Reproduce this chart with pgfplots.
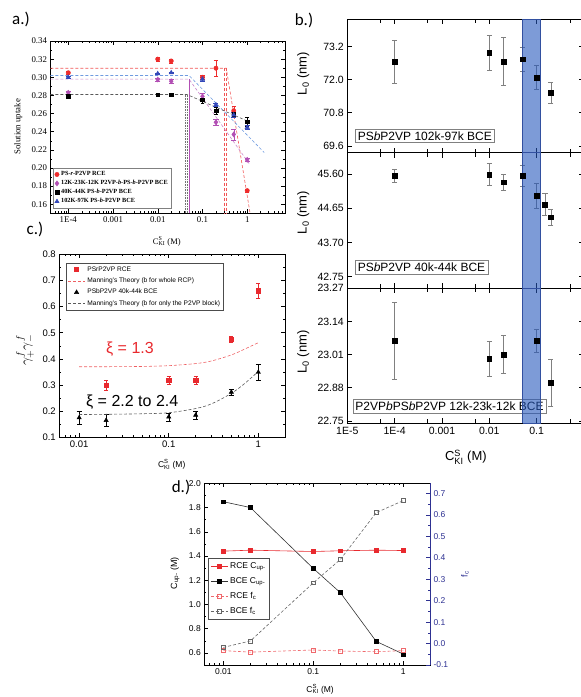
\documentclass[border=0pt]{standalone}
\usepackage{amsmath}
\usepackage{fontspec}
\setmainfont{Liberation Sans}
\newfontfamily\tnr{Liberation Serif}
\newfontfamily\carl{Carlito}
\usepackage{pgfplots}
\pgfplotsset{compat=1.18}

\definecolor{aRed}{HTML}{EE2B2B}
\definecolor{aPurple}{HTML}{B24FB4}
\definecolor{aBlue}{HTML}{3347B8}
\definecolor{aLight}{HTML}{6F9BE0}
\definecolor{cRed}{HTML}{E8292E}
\definecolor{dNavy}{HTML}{2E3192}
\definecolor{bandFill}{RGB}{38,88,188}
\definecolor{bandEdge}{RGB}{50,80,160}

\newcommand{\fs}[1]{\fontsize{#1bp}{#1bp}\selectfont}

\pgfplotsset{
  base/.style={
    scale only axis, anchor=north west,
    /pgf/number format/assume math mode=true,
    tick align=inside, axis line style={line width=0.6pt},
    major tick length=4bp, minor tick length=2bp,
    tick style={black, line width=0.5pt},
  },
  bpts/.style={only marks, mark=square*, mark size=2.3bp, black,
    error bars/.cd, y dir=both, y explicit,
    error bar style={gray, line width=0.5pt},
    error mark options={rotate=90, gray, mark size=2.5bp, line width=0.5pt}},
  band/.style={draw=bandEdge, line width=0.8pt, fill=bandFill, fill opacity=0.6, forget plot},
}

\begin{document}
\begin{tikzpicture}
\useasboundingbox (0,0) rectangle (581bp,-697bp);

% ---------- a.)
\node[font=\carl\fs{17}] at (21bp,-19bp) {a.)};
\begin{axis}[base, at={(50.5bp,-41bp)}, width=234.5bp, height=172.3bp,
  xmode=log, xmin=4e-5, xmax=7, ymin=0.15, ymax=0.34,
  xtick={1e-4,0.001,0.01,0.1,1}, xticklabels={1E-4,0.001,0.01,0.1,1},
  minor xtick={5e-5,6e-5,7e-5,8e-5,9e-5,2e-4,3e-4,4e-4,5e-4,6e-4,7e-4,8e-4,9e-4,
    0.002,0.003,0.004,0.005,0.006,0.007,0.008,0.009,0.02,0.03,0.04,0.05,0.06,0.07,0.08,0.09,
    0.2,0.3,0.4,0.5,0.6,0.7,0.8,0.9,2,3,4,5,6,7},
  ytick={0.16,0.18,0.20,0.22,0.24,0.26,0.28,0.30,0.32,0.34}, minor y tick num=1,
  yticklabel style={/pgf/number format/.cd, fixed, fixed zerofill, precision=2},
  tick label style={font=\tnr\fs{8.8}},
  ylabel={Solution uptake},
  ylabel style={font=\tnr\fs{8.8}, at={(axis description cs:-0.137,0.502)}, anchor=center},
  xlabel={C$^{\text{S}}_{\text{KI}}$ (M)},
  xlabel style={font=\tnr\fs{8.5}, inner sep=0pt, at={(axis description cs:0.496,-0.162)}, anchor=center},
  legend style={at={(axis description cs:0.011,0.03)}, anchor=south west,
    font=\tnr\bfseries\fs{6.3}, draw=gray, row sep=-0.8bp, inner sep=1.5bp,
    cells={anchor=west}},
  legend cell align=left,
]
% fitted lines
\addplot[aRed!80, densely dashed, line width=0.6pt, forget plot] coordinates {(4e-5,0.31) (0.34,0.31) (1.16,0.15)};
\addplot[aRed!80, densely dashed, line width=0.6pt, forget plot] coordinates {(0.31,0.31) (0.31,0.15)};
\addplot[aRed!80, densely dashed, line width=0.6pt, forget plot] coordinates {(0.34,0.31) (0.34,0.15)};
\addplot[aLight, densely dashed, line width=0.6pt, forget plot] coordinates {(4e-5,0.302) (0.05,0.302) (2.4,0.217)};
\addplot[aPurple!70, densely dashed, line width=0.6pt, forget plot] coordinates {(4e-5,0.298) (0.05,0.298) (1.1,0.205)};
\addplot[aPurple, line width=0.6pt, forget plot] coordinates {(0.051,0.298) (0.051,0.15)};
\addplot[black!65, densely dashed, line width=0.6pt, forget plot] coordinates {(4e-5,0.281) (0.045,0.281) (1.15,0.2505)};
\addplot[black!55, densely dotted, line width=0.6pt, forget plot] coordinates {(0.042,0.281) (0.042,0.15)};
\addplot[black!55, densely dotted, line width=0.6pt, forget plot] coordinates {(0.045,0.281) (0.045,0.15)};
% data
\addplot[only marks, mark=*, mark size=2.2bp, aRed,
  error bars/.cd, y dir=both, y explicit] coordinates {
  (1e-4,0.305) +- (0,0.002) (0.01,0.320) +- (0,0.002) (0.02,0.318) +- (0,0.002)
  (0.1,0.300) +- (0,0.002) (0.2,0.310) +- (0,0.009) (0.5,0.263) +- (0,0.005) (1,0.175) +- (0,0.002)};
\addlegendentry{PS-\textit{r}-P2VP RCE}
\addplot[only marks, mark=diamond*, mark size=2.6bp, aPurple,
  error bars/.cd, y dir=both, y explicit] coordinates {
  (1e-4,0.283) +- (0,0.002) (0.01,0.2975) +- (0,0.002) (0.02,0.2956) +- (0,0.002)
  (0.1,0.279) +- (0,0.003) (0.2,0.2504) +- (0,0.003) (0.5,0.237) +- (0,0.006) (1,0.209) +- (0,0.002)};
\addlegendentry{12K-23K-12K P2VP-\textit{b}-PS-\textit{b}-P2VP BCE}
\addplot[only marks, mark=square*, mark size=1.8bp, black,
  error bars/.cd, y dir=both, y explicit] coordinates {
  (1e-4,0.279) +- (0,0.001) (0.01,0.281) +- (0,0.001) (0.02,0.281) +- (0,0.001)
  (0.1,0.2752) +- (0,0.004) (0.2,0.263) +- (0,0.004) (0.5,0.259) +- (0,0.003) (1,0.2511) +- (0,0.005)};
\addlegendentry{40K-44K PS-\textit{b}-P2VP BCE}
\addplot[only marks, mark=triangle*, mark size=2.5bp, aBlue,
  error bars/.cd, y dir=both, y explicit] coordinates {
  (1e-4,0.300) +- (0,0.001) (0.01,0.304) +- (0,0.001) (0.02,0.305) +- (0,0.001)
  (0.1,0.298) +- (0,0.002) (0.2,0.2696) +- (0,0.002) (0.5,0.2585) +- (0,0.003) (1,0.2448) +- (0,0.002)};
\addlegendentry{102K-97K PS-\textit{b}-P2VP BCE}
\end{axis}

% ---------- b.)
\node[font=\carl\fs{17}] at (304bp,-20bp) {b.)};
\begin{axis}[base, at={(347.3bp,-19bp)}, width=236.7bp, height=133.7bp,
  xmode=log, xmin=1e-5, xmax=1,
  xtick={1e-5,1e-4,0.001,0.01,0.1,1}, minor xtick={5e-5,5e-4,5e-3,0.05,0.5},
  major tick length=5bp, minor tick length=4bp,
  tick label style={font=\fs{10.5}},
  ymin=69.35, ymax=74.2, ytick={69.6,70.8,72.0,73.2},
  yticklabel style={/pgf/number format/.cd, fixed, fixed zerofill, precision=1},
  xticklabels={},
  ylabel={L\textsubscript{0} (nm)},
  ylabel style={font=\fs{13}, at={(axis description cs:-0.186,0.592)}, anchor=center},
]
\addplot[bpts] coordinates {
  (1e-4,72.65) +- (0,0.78) (0.01,72.98) +- (0,0.63) (0.02,72.66) +- (0,0.87)
  (0.05,72.74) +- (0,0.45) (0.1,72.08) +- (0,0.44) (0.2,71.52) +- (0,0.38)};
\node[draw=gray, fill=white, inner sep=2.5bp, font=\fs{12}, anchor=west]
  at (axis description cs:0.033,0.127) {PS\textit{b}P2VP 102k-97k BCE};
\addplot[band] coordinates {(0.0507,69.35) (0.121,69.35) (0.121,74.2) (0.0507,74.2) (0.0507,69.35)};
\end{axis}

\begin{axis}[base, at={(347.3bp,-152.7bp)}, width=236.7bp, height=135.6bp,
  xmode=log, xmin=1e-5, xmax=1,
  xtick={1e-5,1e-4,0.001,0.01,0.1,1}, minor xtick={5e-5,5e-4,5e-3,0.05,0.5},
  major tick length=5bp, minor tick length=4bp,
  tick label style={font=\fs{10.5}},
  ymin=42.43, ymax=46.185, ytick={42.75,43.70,44.65,45.60},
  yticklabel style={/pgf/number format/.cd, fixed, fixed zerofill, precision=2},
  xticklabels={},
  ylabel={L\textsubscript{0} (nm)},
  ylabel style={font=\fs{13}, at={(axis description cs:-0.186,0.559)}, anchor=center},
]
\addplot[bpts] coordinates {
  (1e-4,45.54) +- (0,0.18) (0.01,45.58) +- (0,0.30) (0.02,45.37) +- (0,0.22)
  (0.05,45.54) +- (0,0.29) (0.1,44.99) +- (0,0.34) (0.15,44.75) +- (0,0.30) (0.2,44.40) +- (0,0.22)};
\node[draw=gray, fill=white, inner sep=2.5bp, font=\fs{12}, anchor=west]
  at (axis description cs:0.033,0.153) {PS\textit{b}P2VP 40k-44k BCE};
\addplot[band] coordinates {(0.0507,42.43) (0.121,42.43) (0.121,46.185) (0.0507,46.185) (0.0507,42.43)};
\end{axis}

\begin{axis}[base, at={(347.3bp,-288.3bp)}, width=236.7bp, height=135bp,
  xmode=log, xmin=1e-5, xmax=1,
  xtick={1e-5,1e-4,0.001,0.01,0.1,1}, minor xtick={5e-5,5e-4,5e-3,0.05,0.5},
  major tick length=5bp, minor tick length=4bp,
  tick label style={font=\fs{10.5}},
  ymin=22.74, ymax=23.27, ytick={22.75,22.88,23.01,23.14,23.27},
  yticklabel style={/pgf/number format/.cd, fixed, fixed zerofill, precision=2},
  xticklabels={1E-5,1E-4,0.001,0.01,0.1,{}},
  ylabel={L\textsubscript{0} (nm)},
  ylabel style={font=\fs{13}, at={(axis description cs:-0.186,0.528)}, anchor=center},
  xlabel={C$^{\text{S}}_{\text{KI}}$ (M)},
  xlabel style={font=\fs{13}, inner sep=0pt, at={(axis description cs:0.501,-0.25)}, anchor=center},
]
\addplot[bpts] coordinates {
  (1e-4,23.064) +- (0,0.15) (0.01,22.993) +- (0,0.068) (0.02,23.01) +- (0,0.074)
  (0.1,23.064) +- (0,0.047) (0.2,22.899) +- (0,0.093)};
\node[draw=gray, fill=white, inner sep=2.5bp, font=\fs{12}, anchor=west]
  at (axis description cs:0.023,0.126) {P2VP\textit{b}PS\textit{b}P2VP 12k-23k-12k BCE};
\addplot[band] coordinates {(0.0507,22.74) (0.121,22.74) (0.121,23.27) (0.0507,23.27) (0.0507,22.74)};
\end{axis}

% ---------- c.)
\node[font=\carl\fs{17}] at (35bp,-229bp) {c.)};
\begin{axis}[base, at={(59.3bp,-254.3bp)}, width=225.7bp, height=183bp,
  xmode=log, xmin=0.006, xmax=1.986, ymin=0.1, ymax=0.8,
  xtick={0.01,0.1,1}, xticklabels={0.01,0.1,1},
  minor xtick={0.007,0.008,0.009,0.02,0.03,0.04,0.05,0.06,0.07,0.08,0.09,0.2,0.3,0.4,0.5,0.6,0.7,0.8,0.9},
  ytick={0.1,0.2,0.3,0.4,0.5,0.6,0.7,0.8}, minor y tick num=1,
  yticklabel style={/pgf/number format/.cd, fixed, fixed zerofill, precision=1},
  tick label style={font=\fs{9.5}},
  ylabel={$\gamma^{f}_{+}\gamma^{f}_{-}$},
  ylabel style={font=\fs{14}, at={(axis description cs:-0.152,0.477)}, anchor=center},
  xlabel={C$^{\text{S}}_{\text{KI}}$ (M)},
  xlabel style={font=\fs{8.5}, inner sep=0pt, at={(axis description cs:0.498,-0.148)}, anchor=center},
  legend style={at={(axis description cs:0.03,0.954)}, anchor=north west,
    font=\fs{6.6}, draw=black!70, row sep=1.2bp, inner sep=1.5bp, cells={anchor=west}},
  legend cell align=left,
]
\addplot[only marks, mark=square*, mark size=2.1bp, cRed,
  error bars/.cd, y dir=both, y explicit] coordinates {
  (0.02,0.300) +- (0,0.020) (0.1,0.317) +- (0,0.015) (0.2,0.318) +- (0,0.015)
  (0.5,0.475) +- (0,0.012) (1,0.661) +- (0,0.030)};
\addlegendentry{PSrP2VP RCE}
\addplot[cRed!75, densely dashed, line width=0.6pt, smooth] coordinates {
  (0.01,0.370) (0.02,0.370) (0.05,0.371) (0.1,0.374) (0.2,0.382) (0.3,0.392) (0.5,0.415) (0.7,0.437) (1,0.462)};
\addlegendentry{Manning's Theory (b for whole RCP)}
\addplot[only marks, mark=triangle*, mark size=2.5bp, black,
  error bars/.cd, y dir=both, y explicit] coordinates {
  (0.01,0.175) +- (0,0.025) (0.02,0.165) +- (0,0.022) (0.1,0.178) +- (0,0.015)
  (0.2,0.185) +- (0,0.015) (0.5,0.273) +- (0,0.012) (1,0.349) +- (0,0.030)};
\addlegendentry{PSbP2VP 40k-44k BCE}
\addplot[black!65, densely dashed, line width=0.6pt, smooth] coordinates {
  (0.01,0.187) (0.02,0.188) (0.05,0.190) (0.1,0.194) (0.2,0.210) (0.3,0.228) (0.5,0.268) (0.7,0.305) (1,0.352)};
\addlegendentry{Manning's Theory (b for only the P2VP block)}
\node[font=\fs{16}, text=cRed] at (axis description cs:0.313,0.481) {ξ = 1.3};
\node[font=\fs{16}] at (axis description cs:0.323,0.195) {ξ = 2.2 to 2.4};
\end{axis}

% ---------- d.)
\node[font=\carl\fs{17}] at (181bp,-487bp) {d.)};
\begin{axis}[base, at={(204.3bp,-483.3bp)}, width=225.7bp, height=181.7bp,
  xmode=log, xmin=0.00615, xmax=1.98, ymin=0.5, ymax=2.0,
  xtick={0.01,0.1,1}, xticklabels={0.01,0.1,1},
  minor xtick={0.007,0.008,0.009,0.02,0.03,0.04,0.05,0.06,0.07,0.08,0.09,0.2,0.3,0.4,0.5,0.6,0.7,0.8,0.9},
  ytick={0.6,0.8,1.0,1.2,1.4,1.6,1.8,2.0}, minor y tick num=1, ytick pos=left,
  yticklabel style={/pgf/number format/.cd, fixed, fixed zerofill, precision=1},
  tick label style={font=\fs{8.5}},
  ylabel={C\textsubscript{up-} (M)},
  ylabel style={font=\fs{9}, at={(axis description cs:-0.130,0.506)}, anchor=center},
  xlabel={C$^{\text{S}}_{\text{KI}}$ (M)},
  xlabel style={font=\fs{8.5}, inner sep=0pt, at={(axis description cs:0.513,-0.132)}, anchor=center},
  legend style={at={(axis description cs:0.018,0.587)}, anchor=north west,
    font=\fs{8.5}, draw=black!70, row sep=3.6bp, inner sep=2bp, cells={anchor=west}},
  legend cell align=left,
]
\addplot[cRed, line width=0.6pt, mark=square*, mark size=1.9bp] coordinates {
  (0.01,1.440) (0.02,1.448) (0.1,1.437) (0.2,1.443) (0.5,1.448) (1,1.445)};
\addlegendentry{RCE C\textsubscript{up-}}
\addplot[black!80, line width=0.6pt, mark=square*, mark size=1.9bp, mark options={black}] coordinates {
  (0.01,1.848) (0.02,1.800) (0.1,1.297) (0.2,1.097) (0.5,0.695) (1,0.590)};
\addlegendentry{BCE C\textsubscript{up-}}
\addlegendimage{cRed!70, densely dashed, line width=0.6pt, mark=square, mark size=1.9bp, mark options={solid}}
\addlegendentry{RCE f\textsubscript{c}}
\addlegendimage{black!60, densely dashed, line width=0.6pt, mark=square, mark size=1.9bp, mark options={solid}}
\addlegendentry{BCE f\textsubscript{c}}
\end{axis}
\begin{axis}[base, at={(204.3bp,-483.3bp)}, width=225.7bp, height=181.7bp,
  xmode=log, xmin=0.00615, xmax=1.98, ymin=-0.1, ymax=0.7466,
  axis x line=none, axis y line*=right,
  ytick={-0.1,0,0.1,0.2,0.3,0.4,0.5,0.6,0.7}, minor y tick num=1,
  y axis line style={dNavy, line width=0.6pt}, ytick style={dNavy},
  yticklabel style={dNavy, font=\fs{8.5}, /pgf/number format/.cd, fixed, fixed zerofill, precision=1},
  ylabel={f\textsubscript{c}},
  ylabel style={dNavy, font=\fs{9}, at={(axis description cs:1.155,0.5)}, anchor=center},
]
\addplot[cRed!70, densely dashed, line width=0.6pt, mark=square, mark size=1.9bp, mark options={solid}] coordinates {
  (0.01,-0.033) (0.02,-0.040) (0.1,-0.030) (0.2,-0.035) (0.5,-0.038) (1,-0.033)};
\addplot[black!60, densely dashed, line width=0.6pt, mark=square, mark size=1.9bp, mark options={solid}] coordinates {
  (0.01,-0.018) (0.02,0.012) (0.1,0.283) (0.2,0.392) (0.5,0.610) (1,0.666)};
\end{axis}
\end{tikzpicture}
\end{document}
